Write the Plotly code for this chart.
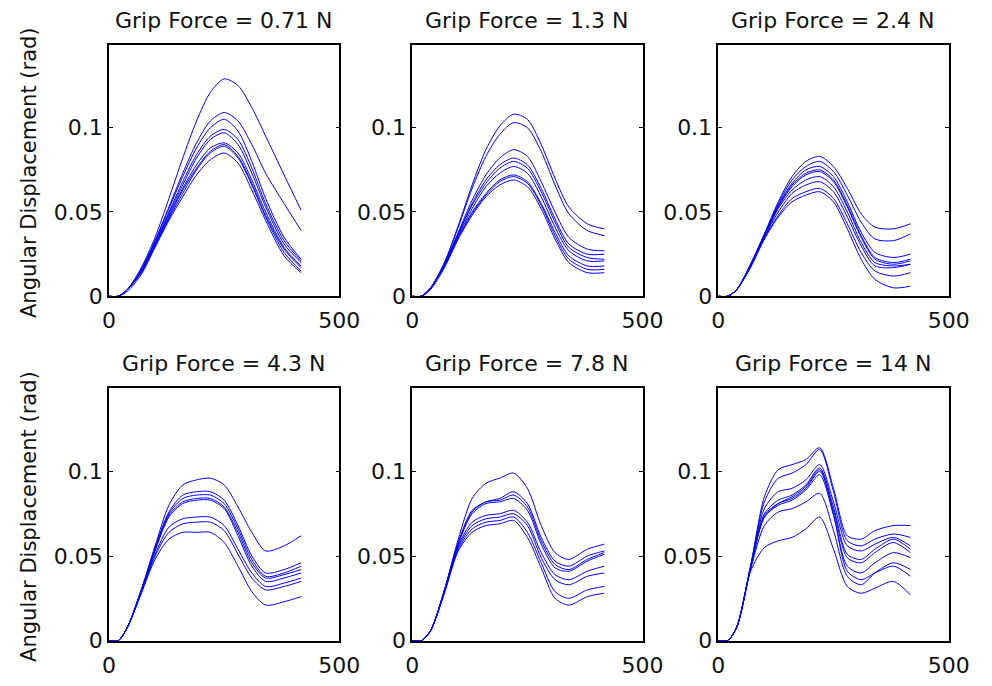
import plotly.graph_objects as go

# time axis (sample index), shared by all traces
t = [0, 20, 40, 70, 100, 130, 160, 190, 220, 250, 280, 310, 340, 380, 417]

titles = ["Grip Force = 0.71 N", "Grip Force = 1.3 N", "Grip Force = 2.4 N",
          "Grip Force = 4.3 N", "Grip Force = 7.8 N", "Grip Force = 14 N"]

gf_071 = [
    [0, 0, 0.004, 0.017, 0.035, 0.058, 0.082, 0.104, 0.121, 0.129, 0.125, 0.112, 0.095, 0.072, 0.051],
    [0, 0, 0.004, 0.016, 0.033, 0.053, 0.073, 0.091, 0.104, 0.109, 0.104, 0.090, 0.073, 0.055, 0.039],
    [0, 0, 0.004, 0.016, 0.033, 0.052, 0.071, 0.088, 0.100, 0.105, 0.098, 0.080, 0.058, 0.035, 0.022],
    [0, 0, 0.004, 0.015, 0.032, 0.050, 0.068, 0.084, 0.095, 0.099, 0.093, 0.076, 0.055, 0.033, 0.021],
    [0, 0, 0.004, 0.015, 0.031, 0.049, 0.066, 0.082, 0.093, 0.097, 0.090, 0.073, 0.053, 0.031, 0.020],
    [0, 0, 0.004, 0.015, 0.031, 0.048, 0.064, 0.078, 0.088, 0.091, 0.085, 0.069, 0.050, 0.029, 0.018],
    [0, 0, 0.004, 0.014, 0.030, 0.047, 0.063, 0.076, 0.086, 0.090, 0.083, 0.067, 0.048, 0.028, 0.017],
    [0, 0, 0.004, 0.014, 0.030, 0.046, 0.061, 0.075, 0.085, 0.089, 0.082, 0.066, 0.047, 0.026, 0.015],
    [0, 0, 0.003, 0.013, 0.029, 0.045, 0.059, 0.072, 0.081, 0.085, 0.079, 0.063, 0.045, 0.024, 0.014],
]

gf_13 = [
    [0, 0, 0.005, 0.020, 0.042, 0.066, 0.087, 0.101, 0.108, 0.105, 0.090, 0.070, 0.053, 0.043, 0.040],
    [0, 0, 0.005, 0.020, 0.041, 0.064, 0.083, 0.096, 0.103, 0.100, 0.086, 0.066, 0.049, 0.039, 0.036],
    [0, 0, 0.005, 0.019, 0.038, 0.057, 0.072, 0.082, 0.087, 0.083, 0.068, 0.050, 0.035, 0.028, 0.027],
    [0, 0, 0.005, 0.019, 0.037, 0.055, 0.069, 0.078, 0.082, 0.078, 0.064, 0.046, 0.031, 0.025, 0.025],
    [0, 0, 0.005, 0.019, 0.037, 0.054, 0.067, 0.076, 0.080, 0.076, 0.062, 0.044, 0.029, 0.023, 0.022],
    [0, 0, 0.005, 0.018, 0.036, 0.052, 0.065, 0.073, 0.077, 0.073, 0.059, 0.041, 0.027, 0.021, 0.021],
    [0, 0, 0.005, 0.018, 0.035, 0.050, 0.061, 0.069, 0.072, 0.068, 0.055, 0.038, 0.024, 0.018, 0.018],
    [0, 0, 0.005, 0.018, 0.035, 0.049, 0.060, 0.068, 0.071, 0.067, 0.054, 0.036, 0.022, 0.016, 0.016],
    [0, 0, 0.004, 0.017, 0.034, 0.048, 0.059, 0.066, 0.069, 0.065, 0.052, 0.034, 0.020, 0.014, 0.014],
]

gf_24 = [
    [0, 0, 0.004, 0.019, 0.037, 0.056, 0.071, 0.080, 0.083, 0.077, 0.064, 0.049, 0.041, 0.040, 0.043],
    [0, 0, 0.004, 0.019, 0.037, 0.055, 0.069, 0.077, 0.080, 0.074, 0.060, 0.044, 0.034, 0.033, 0.037],
    [0, 0, 0.004, 0.019, 0.036, 0.054, 0.067, 0.075, 0.077, 0.071, 0.056, 0.038, 0.026, 0.023, 0.025],
    [0, 0, 0.004, 0.018, 0.036, 0.053, 0.066, 0.073, 0.075, 0.069, 0.054, 0.036, 0.023, 0.020, 0.022],
    [0, 0, 0.004, 0.018, 0.036, 0.053, 0.065, 0.072, 0.074, 0.068, 0.053, 0.035, 0.022, 0.019, 0.021],
    [0, 0, 0.004, 0.018, 0.035, 0.052, 0.063, 0.069, 0.071, 0.065, 0.050, 0.032, 0.020, 0.018, 0.019],
    [0, 0, 0.004, 0.018, 0.035, 0.050, 0.061, 0.066, 0.068, 0.062, 0.047, 0.030, 0.018, 0.017, 0.019],
    [0, 0, 0.004, 0.018, 0.034, 0.048, 0.058, 0.062, 0.064, 0.058, 0.043, 0.026, 0.015, 0.012, 0.014],
    [0, 0, 0.004, 0.017, 0.034, 0.047, 0.056, 0.060, 0.062, 0.056, 0.040, 0.022, 0.010, 0.005, 0.006],
]

gf_43 = [
    [0, 0, 0.008, 0.030, 0.056, 0.080, 0.092, 0.095, 0.096, 0.092, 0.079, 0.064, 0.053, 0.056, 0.062],
    [0, 0, 0.008, 0.030, 0.055, 0.076, 0.086, 0.088, 0.088, 0.083, 0.068, 0.050, 0.040, 0.042, 0.046],
    [0, 0, 0.008, 0.030, 0.054, 0.075, 0.084, 0.086, 0.086, 0.081, 0.066, 0.048, 0.038, 0.040, 0.044],
    [0, 0, 0.008, 0.029, 0.054, 0.074, 0.082, 0.084, 0.084, 0.079, 0.064, 0.046, 0.037, 0.039, 0.042],
    [0, 0, 0.008, 0.029, 0.053, 0.073, 0.081, 0.083, 0.083, 0.078, 0.062, 0.044, 0.035, 0.037, 0.040],
    [0, 0, 0.008, 0.029, 0.051, 0.067, 0.072, 0.073, 0.073, 0.068, 0.054, 0.040, 0.032, 0.034, 0.037],
    [0, 0, 0.008, 0.028, 0.050, 0.064, 0.069, 0.070, 0.070, 0.065, 0.051, 0.037, 0.030, 0.032, 0.035],
    [0, 0, 0.008, 0.028, 0.048, 0.060, 0.064, 0.064, 0.064, 0.058, 0.044, 0.029, 0.021, 0.023, 0.026],
]

gf_78 = [
    [0, 0, 0.006, 0.030, 0.060, 0.084, 0.093, 0.096, 0.099, 0.090, 0.068, 0.052, 0.048, 0.054, 0.057],
    [0, 0, 0.006, 0.030, 0.058, 0.077, 0.082, 0.084, 0.088, 0.081, 0.061, 0.047, 0.044, 0.050, 0.053],
    [0, 0, 0.006, 0.030, 0.058, 0.076, 0.082, 0.083, 0.086, 0.079, 0.059, 0.045, 0.042, 0.048, 0.052],
    [0, 0, 0.006, 0.029, 0.057, 0.075, 0.081, 0.082, 0.084, 0.077, 0.057, 0.043, 0.041, 0.047, 0.051],
    [0, 0, 0.006, 0.029, 0.056, 0.070, 0.074, 0.075, 0.077, 0.070, 0.052, 0.039, 0.036, 0.041, 0.044],
    [0, 0, 0.006, 0.029, 0.055, 0.068, 0.072, 0.073, 0.075, 0.068, 0.049, 0.036, 0.033, 0.038, 0.040],
    [0, 0, 0.006, 0.029, 0.054, 0.066, 0.070, 0.071, 0.073, 0.064, 0.046, 0.029, 0.025, 0.030, 0.032],
    [0, 0, 0.006, 0.028, 0.053, 0.064, 0.068, 0.069, 0.071, 0.061, 0.043, 0.025, 0.021, 0.026, 0.028],
]

gf_14 = [
    [0, 0, 0.008, 0.044, 0.085, 0.101, 0.104, 0.107, 0.114, 0.090, 0.062, 0.060, 0.065, 0.068, 0.068],
    [0, 0, 0.008, 0.044, 0.082, 0.096, 0.099, 0.104, 0.113, 0.088, 0.059, 0.056, 0.060, 0.063, 0.061],
    [0, 0, 0.008, 0.044, 0.078, 0.088, 0.090, 0.095, 0.104, 0.082, 0.056, 0.053, 0.057, 0.061, 0.056],
    [0, 0, 0.008, 0.043, 0.075, 0.083, 0.086, 0.092, 0.102, 0.079, 0.051, 0.048, 0.054, 0.060, 0.054],
    [0, 0, 0.008, 0.043, 0.074, 0.081, 0.084, 0.090, 0.100, 0.077, 0.049, 0.046, 0.052, 0.058, 0.052],
    [0, 0, 0.008, 0.043, 0.073, 0.080, 0.083, 0.089, 0.098, 0.074, 0.044, 0.040, 0.046, 0.052, 0.049],
    [0, 0, 0.008, 0.043, 0.073, 0.081, 0.085, 0.091, 0.101, 0.075, 0.041, 0.036, 0.040, 0.044, 0.038],
    [0, 0, 0.008, 0.042, 0.068, 0.076, 0.078, 0.082, 0.087, 0.065, 0.038, 0.033, 0.040, 0.046, 0.042],
    [0, 0, 0.008, 0.041, 0.055, 0.059, 0.061, 0.066, 0.073, 0.054, 0.032, 0.028, 0.031, 0.035, 0.027],
]

panels = [gf_071, gf_13, gf_24, gf_43, gf_78, gf_14]

W, H = 992, 686
col_px = [(105, 342), (417, 654), (732, 969)]
row_px = [(46, 302), (396, 653)]

FONT = "DejaVu Sans"
fig = go.Figure()
layout = dict(width=W, height=H, margin=dict(l=0, r=0, t=0, b=0),
              paper_bgcolor="white", plot_bgcolor="white", showlegend=False,
              font=dict(family=FONT, color="black"))
annotations = []

for i, curves in enumerate(panels):
    r, c = divmod(i, 3)
    n = "" if i == 0 else str(i + 1)
    for y in curves:
        fig.add_trace(go.Scatter(x=t, y=y, mode="lines", xaxis="x" + n, yaxis="y" + n,
                                 line=dict(color="#0000ff", width=1, shape="spline", smoothing=0.8),
                                 hoverinfo="skip"))
    x0, x1 = col_px[c]
    y0, y1 = row_px[r]
    common = dict(showline=True, linecolor="black", linewidth=1.6, mirror="ticks",
                  ticks="inside", ticklen=4, tickcolor="black", tickwidth=1,
                  showgrid=False, zeroline=False, tickfont=dict(size=22, family=FONT, color="#111"))
    layout["xaxis" + n] = dict(domain=[x0 / W, x1 / W], range=[0, 500], anchor="y" + n,
                               tickvals=[0, 500], ticktext=["0", "500"],
                               ticklabelstandoff=4, **common)
    layout["yaxis" + n] = dict(domain=[1 - y1 / H, 1 - y0 / H], range=[0, 0.149], anchor="x" + n,
                               tickvals=[0, 0.05, 0.1], ticktext=["0", "0.05", "0.1"], **common)
    annotations.append(dict(text=titles[i], x=(x0 + x1) / 2 / W, y=1 - (y0 - 25) / H,
                            xref="paper", yref="paper", xanchor="center", yanchor="middle",
                            showarrow=False, font=dict(size=22, family=FONT, color="#111")))
    if c == 0:
        annotations.append(dict(text="Angular Displacement (rad)", x=22 / W,
                                y=1 - ((y0 + y1) / 2 + 2) / H, xref="paper", yref="paper",
                                xanchor="center", yanchor="middle", textangle=-90,
                                showarrow=False, font=dict(size=21, family=FONT, color="#111")))

layout["annotations"] = annotations
fig.update_layout(**layout)
fig.write_html("out.html")
